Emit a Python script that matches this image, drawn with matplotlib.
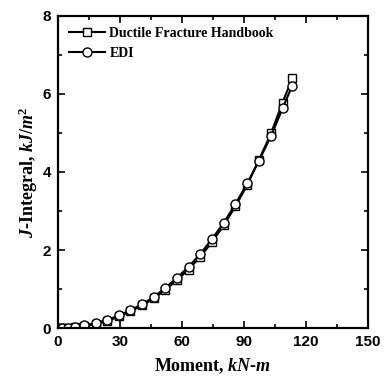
import matplotlib
matplotlib.use('Agg')
import matplotlib.pyplot as plt
from matplotlib.ticker import MultipleLocator

# Ductile Fracture Handbook (squares)
dfh_moment = [0, 1.5, 3, 5, 8.2, 12.7, 18.4, 23.9, 29.7, 35.1, 40.7, 46.5, 51.9,
              57.6, 63.2, 68.9, 74.5, 80.3, 85.9, 91.6, 97.2, 103.2, 108.7, 113.4]
dfh_j = [0, 0, 0, 0.01, 0.03, 0.05, 0.1, 0.18, 0.3, 0.43, 0.58, 0.76, 0.98,
         1.23, 1.5, 1.83, 2.2, 2.64, 3.12, 3.67, 4.3, 5.0, 5.78, 6.4]

# EDI (circles)
edi_moment = [0, 2, 5, 8.2, 12.7, 18.4, 23.9, 29.7, 35.1, 40.7, 46.5, 51.9,
              57.6, 63.2, 68.9, 74.5, 80.3, 85.9, 91.6, 97.2, 103.2, 108.7, 113.4]
edi_j = [0, 0, 0.01, 0.04, 0.07, 0.13, 0.21, 0.33, 0.46, 0.61, 0.80, 1.03,
         1.29, 1.57, 1.90, 2.28, 2.70, 3.18, 3.71, 4.28, 4.93, 5.63, 6.21]

plt.rcParams['mathtext.fontset'] = 'custom'
plt.rcParams['mathtext.rm'] = 'Liberation Serif:bold'
plt.rcParams['mathtext.it'] = 'Liberation Serif:italic:bold'

fig = plt.figure(figsize=(3.84, 3.78), dpi=100)
ax = fig.add_axes([0.151, 0.132, 0.807, 0.826])

ax.plot(dfh_moment, dfh_j, color='black', linewidth=1.5, marker='s', markersize=6,
        markerfacecolor='white', markeredgecolor='black', markeredgewidth=1.0,
        label='Ductile Fracture Handbook')
ax.plot(edi_moment, edi_j, color='black', linewidth=1.5, marker='o', markersize=6.5,
        markerfacecolor='white', markeredgecolor='black', markeredgewidth=1.0,
        label='EDI')

ax.set_xlim(0, 150)
ax.set_ylim(0, 8)
ax.xaxis.set_major_locator(MultipleLocator(30))
ax.xaxis.set_minor_locator(MultipleLocator(15))
ax.yaxis.set_major_locator(MultipleLocator(2))
ax.yaxis.set_minor_locator(MultipleLocator(1))
ax.tick_params(which='both', direction='in', top=True, right=True, width=1.2)
ax.tick_params(which='major', length=5, pad=5)
ax.tick_params(which='minor', length=3)
for lbl in ax.get_xticklabels() + ax.get_yticklabels():
    lbl.set_fontfamily('Liberation Sans')
    lbl.set_fontweight('bold')
    lbl.set_fontsize(11)
for sp in ax.spines.values():
    sp.set_linewidth(1.6)

ax.set_xlabel(r'Moment, $kN$-$m$', fontfamily='Liberation Serif', fontweight='bold',
              fontsize=13, labelpad=5)
ax.set_ylabel(r'$J$-Integral, $kJ/m^2$', fontfamily='Liberation Serif', fontweight='bold',
              fontsize=13, labelpad=2)

leg = ax.legend(loc='upper left', frameon=False, handlelength=2.6, handletextpad=0.3,
                borderaxespad=0.4, labelspacing=0.5,
                prop={'family': 'Liberation Serif', 'weight': 'bold', 'size': 10})

fig.savefig('out.png', dpi=100)
